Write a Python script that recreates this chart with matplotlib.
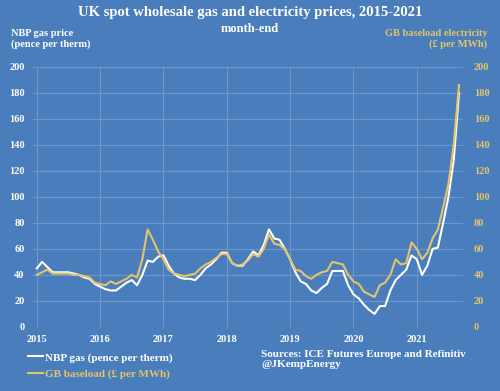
import matplotlib.pyplot as plt
import numpy as np

# month-end values, Jan 2015 .. Sep 2021
gas = [45, 50, 46, 42, 42, 42, 42, 41, 40, 38, 37, 33,
       31, 29, 28, 28, 31, 34, 36, 32, 40, 51, 50, 54,
       55, 47, 41, 38, 37, 37, 36, 40, 45, 48, 52, 57,
       57, 49, 47, 47, 52, 58, 55, 63, 75, 68, 67, 60,
       52, 42, 35, 33, 28, 26, 30, 33, 43, 43, 43, 32,
       25, 22, 17, 13, 10, 16, 16, 28, 36, 40, 44, 55,
       52, 40, 47, 60, 61, 80, 100, 128, 180]
power = [40, 42, 44, 41, 41, 41, 41, 40, 40, 39, 38, 34,
         33, 32, 35, 33, 35, 37, 40, 38, 52, 75, 67, 58,
         52, 44, 41, 40, 39, 40, 41, 45, 48, 50, 53, 56,
         56, 49, 47, 48, 51, 56, 54, 60, 71, 64, 63, 60,
         52, 44, 43, 39, 37, 40, 42, 43, 50, 49, 48, 40,
         35, 33, 27, 25, 23, 32, 34, 40, 52, 48, 49, 65,
         60, 52, 57, 68, 75, 92, 110, 140, 186]
years = [2015, 2016, 2017, 2018, 2019, 2020, 2021]
yticks = list(range(0, 201, 20))

bg = "#4a7dbb"
yellow = "#e3c46a"
grid = "#6e98cc"

plt.rcParams['font.family'] = ['Liberation Serif', 'DejaVu Serif']

x = 2015 + np.arange(len(gas)) / 12.0

fig = plt.figure(figsize=(5, 3.91), dpi=100, facecolor=bg)
ax = fig.add_axes([0.066, 0.164, 0.86, 0.665], facecolor=bg)

ax.plot(x, gas, color="white", lw=1.5, label="NBP gas (pence per therm)")
ax.plot(x, power, color=yellow, lw=1.5, label="GB baseload (\u00a3 per MWh)")

ax.set_xlim(2014.94, 2021.73)
ax.set_ylim(0, 200)
ax.set_xticks(years)
ax.set_xticklabels([str(y) for y in years])
ax.set_yticks(yticks)
ax.grid(True, color=grid, lw=0.8)
for s in ax.spines.values():
    s.set_visible(False)
ax.tick_params(length=0, labelsize=7.5, labelcolor="white", pad=6)
for t in ax.get_xticklabels() + ax.get_yticklabels():
    t.set_fontweight("bold")

ax2 = ax.twinx()
ax2.set_ylim(0, 200)
ax2.set_yticks(yticks)
for s in ax2.spines.values():
    s.set_visible(False)
ax2.tick_params(length=0, labelsize=7.5, labelcolor=yellow, pad=8)
for t in ax2.get_yticklabels():
    t.set_fontweight("bold")

fig.text(0.5, 0.968, "UK spot wholesale gas and electricity prices, 2015-2021",
         ha="center", va="center", color="white", fontsize=10.5, fontweight="bold")
fig.text(0.5, 0.926, "month-end", ha="center", va="center", color="white",
         fontsize=9, fontweight="bold")
fig.text(0.022, 0.9, "NBP gas price\n(pence per therm)", ha="left", va="center",
         color="white", fontsize=7.5, fontweight="bold", linespacing=1.1)
fig.text(0.975, 0.9, "GB baseload electricity\n(\u00a3 per MWh)", ha="right", va="center",
         color=yellow, fontsize=7.5, fontweight="bold", linespacing=1.1)

leg = fig.legend(loc="lower left", bbox_to_anchor=(0.035, 0.006), frameon=False,
                 fontsize=8, handlelength=1.4, handletextpad=0.2, labelspacing=0.55)
for t, c in zip(leg.get_texts(), ["white", yellow]):
    t.set_color(c)
    t.set_fontweight("bold")

fig.text(0.522, 0.08, "Sources: ICE Futures Europe and Refinitiv\n@JKempEnergy",
         ha="left", va="center", color="white", fontsize=8, fontweight="bold",
         linespacing=1.15)

fig.savefig("out.png", dpi=100, facecolor=bg)
